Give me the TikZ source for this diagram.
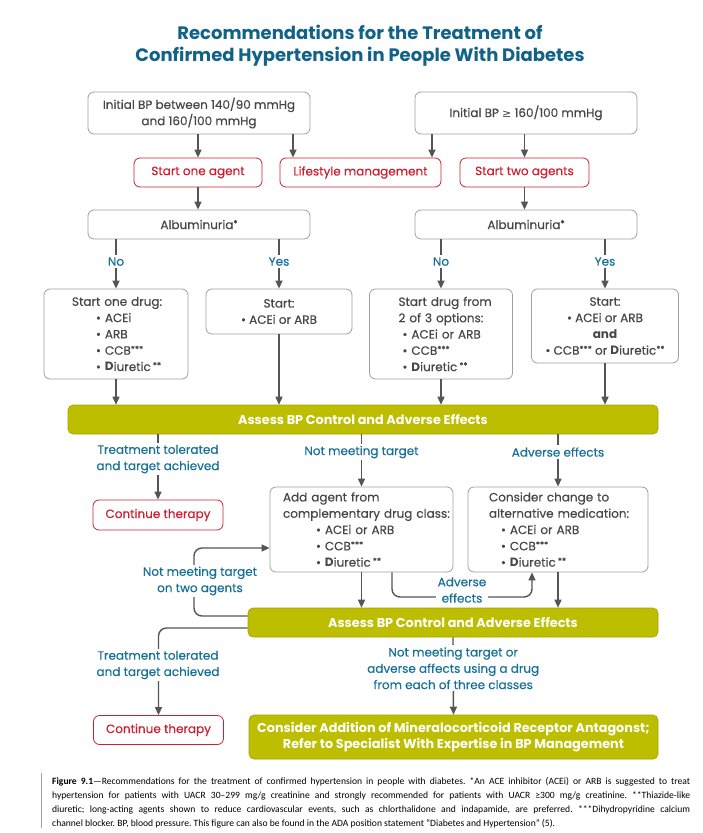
\documentclass[tikz,border=0pt]{standalone}
\usepackage{fontspec}
\setmainfont{Poppins}[UprightFeatures={FakeBold=0.35}]
\newfontfamily\capfont{Carlito}
\newfontfamily\symf{DejaVu Sans}
\usetikzlibrary{arrows.meta}
\definecolor{boxgray}{RGB}{160,160,160}
\definecolor{txtgray}{RGB}{70,70,70}
\definecolor{adared}{RGB}{204,32,48}
\definecolor{titleblue}{RGB}{16,98,134}
\definecolor{labblue}{RGB}{22,112,152}
\definecolor{olive}{RGB}{189,190,0}
\definecolor{arrgray}{RGB}{85,85,85}
\newcommand\myst[1]{\raisebox{0.4ex}{\fontsize{8.5}{8}\selectfont #1}}
\newcommand\diur{\textbf{D}iuretic}
\begin{document}
\begin{tikzpicture}[x=1pt,y=-1pt,
  every node/.style={font=\fontsize{12}{16.3}\selectfont},
  box/.style={draw=boxgray, line width=0.8pt, rounded corners=6pt, fill=white, text=txtgray, align=center, inner sep=0pt},
  lbox/.style={box, align=left, inner xsep=0pt},
  redbox/.style={draw=adared, line width=0.8pt, rounded corners=6pt, fill=white, text=adared, align=center, inner sep=0pt, minimum height=29},
  bar/.style={draw=olive!85!black, line width=0.6pt, rounded corners=5pt, fill=olive, text=white, align=center, inner sep=0pt, font=\bfseries\fontsize{12.8}{16.5}\selectfont},
  lab/.style={text=labblue, fill=white, align=center, inner sep=2pt},
  arr/.style={draw=arrgray, line width=1.4pt, -{Triangle[length=8pt,width=7pt]}},
]
\useasboundingbox (0,0) rectangle (702,833);

\node[text=titleblue, align=center, font=\bfseries\fontsize{18}{22}\selectfont] (title) at (360,46)
  {Recommendations for the Treatment of\\Confirmed Hypertension in People With Diabetes};

\node[box, minimum width=222, minimum height=42] (initA) at (199,113) {Initial BP between 140/90 mmHg\\and 160/100 mmHg};
\node[box, minimum width=222, minimum height=42] (initB) at (526,113) {Initial BP {\symf\fontsize{11}{16}\selectfont ≥} 160/100 mmHg};

\node[redbox, minimum width=128] (one) at (198,172.5) {Start one agent};
\node[redbox, minimum width=161] (life) at (360.5,172.5) {Lifestyle management};
\node[redbox, minimum width=129] (two) at (524.5,172.5) {Start two agents};

\node[box, minimum width=222, minimum height=29] (albA) at (199,224.5) {Albuminuria\myst{*}};
\node[box, minimum width=222, minimum height=29] (albB) at (526,224.5) {Albuminuria\myst{*}};

\node[lbox, text width=144, minimum height=90] (d1) at (116,334)
  {\hspace*{28pt}Start one drug:\\\hspace*{52pt}• ACEi\\\hspace*{52pt}• ARB\\\hspace*{52pt}• CCB\myst{***}\\\hspace*{52pt}• \diur\,\myst{**}};
\node[box, minimum width=146, minimum height=45] (d2) at (279,311.5) {Start:\\• ACEi or ARB};
\node[lbox, text width=143, minimum height=90] (d3) at (441,334)
  {\hspace*{29pt}Start drug from\\\hspace*{29pt}2 of 3 options:\\\hspace*{33pt}• ACEi or ARB\\\hspace*{33pt}• CCB\myst{***}\\\hspace*{33pt}• \diur\,\myst{**}};
\node[box, minimum width=147, minimum height=74] (d4) at (605,326)
  {Start:\\• ACEi or ARB\\\textbf{and}\\• CCB\myst{***} or \diur\myst{**}};

\node[bar, minimum width=590, minimum height=29] (bar1) at (363,419.5) {Assess BP Control and Adverse Effects};

\node[redbox, minimum width=130, minimum height=30] (cont1) at (158,515) {Continue therapy};
\node[lbox, text width=183, minimum height=85] (add) at (361.5,529.5)
  {\hspace*{13pt}Add agent from\\\hspace*{13pt}complementary drug class:\\\hspace*{46pt}• ACEi or ARB\\\hspace*{46pt}• CCB\myst{***}\\\hspace*{46pt}• \diur\,\myst{**}};
\node[lbox, text width=180, minimum height=85] (cons) at (558,529.5)
  {\hspace*{21pt}Consider change to\\\hspace*{21pt}alternative medication:\\\hspace*{33pt}• ACEi or ARB\\\hspace*{33pt}• CCB\myst{***}\\\hspace*{33pt}• \diur\,\myst{**}};

\node[bar, minimum width=410, minimum height=29] (bar2) at (453,622.5) {Assess BP Control and Adverse Effects};
\node[redbox, minimum width=130, minimum height=29] (cont2) at (158.5,730) {Continue therapy};
\node[bar, minimum width=409, minimum height=44] (final) at (453.5,737)
  {Consider Addition of Mineralocorticoid Receptor Antagonst;\\Refer to Specialist With Expertise in BP Management};

% connectors
\coordinate (x293) at (293,0);
\coordinate (x432) at (432,0);
\coordinate (x392) at (392,0);
\coordinate (x532) at (532,0);
\coordinate (x194) at (194,0);
\coordinate (y597) at (0,597);
\draw[arr] (initA.south -| one) -- (one.north);
\draw[arr] (initA.south -| x293) -- (life.north -| x293);
\draw[arr] (initB.south -| x432) -- (life.north -| x432);
\draw[arr] (initB.south -| two) -- (two.north);
\draw[arr] (one.south) -- (albA.north -| one);
\draw[arr] (two.south) -- (albB.north -| two);
\draw[arr] (albA.south -| d1) -- node[lab,pos=0.45]{No} (d1.north);
\draw[arr] (albA.south -| d2) -- node[lab,pos=0.45]{Yes} (d2.north);
\draw[arr] (albB.south -| d3) -- node[lab,pos=0.45]{No} (d3.north);
\draw[arr] (albB.south -| d4) -- node[lab,pos=0.45]{Yes} (d4.north);
\draw[arr] (d1.south) -- (bar1.north -| d1);
\draw[arr] (d2.south) -- (bar1.north -| d2);
\draw[arr] (d3.south) -- (bar1.north -| d3);
\draw[arr] (d4.south) -- (bar1.north -| d4);
\draw[arr] (bar1.south -| cont1) -- node[lab,pos=0.38]{Treatment tolerated\\and target achieved} (cont1.north);
\draw[arr] (bar1.south -| add) -- node[lab,pos=0.34]{Not meeting target} (add.north);
\draw[arr] (bar1.south -| cons) -- node[lab,pos=0.34]{Adverse effects} (cons.north);
\draw[arr] (add.south) -- (bar2.north -| add);
\draw[arr] (cons.south) -- (bar2.north -| cons);
\draw[arr, rounded corners=8pt] (add.south -| x392) |- (x532 |- y597) -- (cons.south -| x532);
\node[lab] (advlab) at (462,590) {Adverse\\effects};
\coordinate (addin) at ([yshift=-18.5pt]add.west);
\coordinate (bar2outa) at ([yshift=6.5pt]bar2.west);
\coordinate (bar2outb) at ([yshift=-5.5pt]bar2.west);
\draw[arr, rounded corners=8pt] (bar2outa) -| (x194 |- addin) -- (addin);
\node[lab] (twolab) at (200,581) {Not meeting target\\on two agents};
\draw[arr, rounded corners=8pt] (bar2outb) -| (cont2.north);
\node[lab] (tollab) at (158,665) {Treatment tolerated\\and target achieved};
\draw[arr] (bar2.south) -- node[lab,pos=0.4]{Not meeting target or\\adverse affects using a drug\\from each of three classes} (final.north);

% caption
\draw[draw=boxgray, line width=0.8pt] (41,773) -- (41,828);
\node[anchor=north west, align=left, inner sep=0pt, text=black,
  font=\capfont\fontsize{9.6}{14}\selectfont\frenchspacing] (cap) at (52,777)
 {\hbox to 638pt{\textbf{Figure 9.1}—Recommendations for the treatment of confirmed hypertension in people with diabetes. *An ACE inhibitor (ACEi) or ARB is suggested to treat}\\
 \hbox to 638pt{hypertension for patients with UACR 30–299 mg/g creatinine and strongly recommended for patients with UACR ≥300 mg/g creatinine. **Thiazide-like}\\
 \hbox to 638pt{diuretic; long-acting agents shown to reduce cardiovascular events, such as chlorthalidone and indapamide, are preferred. ***Dihydropyridine calcium}\\
 channel blocker. BP, blood pressure. This figure can also be found in the ADA position statement “Diabetes and Hypertension” (5).};
\end{tikzpicture}
\end{document}
